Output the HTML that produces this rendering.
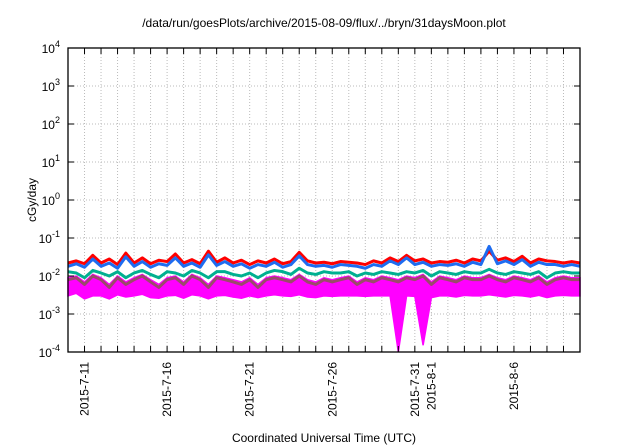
<!DOCTYPE html>
<html><head><meta charset="utf-8"><style>
html,body{margin:0;padding:0;background:#fff}
svg{display:block;font-family:"Liberation Sans",sans-serif}
</style></head><body>
<svg id="chart" width="640" height="448">
<text x="324" y="27" font-size="12" text-anchor="middle">/data/run/goesPlots/archive/2015-08-09/flux/../bryn/31daysMoon.plot</text>
<text x="0" y="0" font-size="12" text-anchor="middle" transform="translate(36,200) rotate(-90)">cGy/day</text>
<text x="324" y="442" font-size="12" text-anchor="middle">Coordinated Universal Time (UTC)</text>
<g id="grid"></g><g id="series"></g><g id="axes"></g>
</svg>
<script>
const yTickExps=[-4,-3,-2,-1,0,1,2,3,4];
const xLabelDays=[1,6,11,16,21,22,27];
const xLabels=["2015-7-11","2015-7-16","2015-7-21","2015-7-26","2015-7-31","2015-8-1","2015-8-6"];
const totalDays=31;
// values in units of 1e-3 cGy/day, sampled every 12 h from 2015-7-10
const redVals=[22,25,21,35,22,28,20,40,22,30,21,26,24,38,22,27,21,45,23,30,22,26,20,25,22,28,21,24,42,25,22,23,21,24,23,22,20,25,22,30,24,35,25,28,22,24,23,26,22,28,25,45,26,30,24,33,22,28,25,24,22,24,22];
const blueVals=[18,21,17,28,18,22,16,32,18,24,17,21,19,30,18,22,17,36,19,24,18,21,16,20,18,23,17,20,34,20,18,19,17,20,19,18,16,20,18,25,20,30,20,23,18,20,19,21,18,23,20,60,21,25,20,27,18,23,20,20,18,20,18];
const tealVals=[13,12,9,14,12,10,13,9,12,14,11,9,13,12,10,14,12,9,13,13,11,10,12,9,12,14,13,11,16,12,11,13,12,12,13,10,12,11,13,12,11,13,12,14,10,13,12,11,13,12,12,15,12,11,13,12,11,13,9,12,13,12,12];
const brownVals=[8,9,6,10,8,5,9,6,8,10,7,5,8,9,6,10,8,5,9,8,7,6,8,5,8,9,8,7,10,7,6,8,7,8,9,6,8,7,9,8,7,9,8,10,6,9,8,7,9,8,8,10,8,7,9,8,7,9,6,8,9,8,8];
const magLowVals=[3,3.5,2.5,3,3,2.5,3.2,2.8,3,3.3,2.7,2.6,3,3.1,2.6,3.2,3,2.5,3,3.1,2.8,2.6,3,2.7,3,3.2,3,2.9,3.2,2.8,2.7,3,2.9,3,3,3,2.9,3,3,3,0.1,3,2.9,0.15,2.7,3,3,2.8,3.1,3,3,3.2,3,2.8,3.1,3,2.8,3.1,2.7,3,3.1,3,3];
const magHighVals=[9,10,7,11,9,6,10,7,9,11,8,6,9,10,7,11,9,6,10,9,8,7,9,6,9,10,9,8,11,8,7,9,8,9,10,7,9,8,10,9,8,10,9,11,7,10,9,8,10,9,9,11,9,8,10,9,8,10,7,9,10,9,9];
const L=68,R=580,T=48,B=352;
const xs=d=>L+(R-L)*d/totalDays;
const ys=v=>B-(B-T)*(Math.log10(v)+4)/8;
const NS="http://www.w3.org/2000/svg";
function mk(tag,attrs,parent){const e=document.createElementNS(NS,tag);for(const k in attrs)e.setAttribute(k,attrs[k]);parent.appendChild(e);return e;}
const grid=document.getElementById('grid'),ser=document.getElementById('series'),ax=document.getElementById('axes');
for(let d=1;d<totalDays;d++){
 const g=mk('line',{x1:xs(d),x2:xs(d),y1:T,y2:B,stroke:'#bbb','stroke-dasharray':'1,2','stroke-width':1},grid);
 
 
 const t1=mk('line',{x1:xs(d),x2:xs(d),y1:B,y2:B-6,stroke:'#000'},ax);
 
 
 const t2=mk('line',{x1:xs(d),x2:xs(d),y1:T,y2:T+6,stroke:'#000'},ax);
 
 
}
yTickExps.forEach(e=>{
 const y=ys(Math.pow(10,e));
 if(e>-4&&e<4){const g=mk('line',{x1:L,x2:R,y1:y,y2:y,stroke:'#bbb','stroke-dasharray':'1,2'},grid);
 
 }
 const t=mk('line',{x1:L,x2:L+6,y1:y,y2:y,stroke:'#000'},ax);
 
 
 const t2=mk('line',{x1:R,x2:R-6,y1:y,y2:y,stroke:'#000'},ax);
 
 
 const tx=mk('text',{x:L-8,y:y+5,'font-size':12,'text-anchor':'end'},ax);
 
 
 tx.textContent='10';
 const sp=mk('tspan',{dy:-6,'font-size':9},tx);sp.textContent=String(e);
});
xLabelDays.forEach((d,i)=>{
 const tx=mk('text',{'font-size':12,'text-anchor':'end',transform:`translate(${xs(d)+4},362) rotate(-90)`},ax);
 
 
 tx.textContent=xLabels[i];
});
function px(arr,i){return xs(i*totalDays/(arr.length-1));}
let pts=magHighVals.map((v,i)=>px(magHighVals,i)+','+ys(v*1e-3));
pts=pts.concat(magLowVals.map((v,i)=>px(magLowVals,i)+','+ys(v*1e-3)).reverse());
const band=mk('polygon',{points:pts.join(' '),fill:'#ff00ff',stroke:'#ff00ff','stroke-width':1.5},ser);


[[brownVals,'#9b4a6a','brown-series'],[tealVals,'#00b090','teal-series'],[redVals,'#ff0000','red-series'],[blueVals,'#1e6cf0','blue-series']].forEach(([arr,c,n])=>{
 const p=mk('polyline',{points:arr.map((v,i)=>px(arr,i)+','+ys(v*1e-3)).join(' '),fill:'none',stroke:c,'stroke-width':3,'stroke-linejoin':'round'},ser);
 
 
});
const box=mk('rect',{x:L,y:T,width:R-L,height:B-T,fill:'none',stroke:'#000','stroke-width':1.3},ax);


</script>
</body></html>
